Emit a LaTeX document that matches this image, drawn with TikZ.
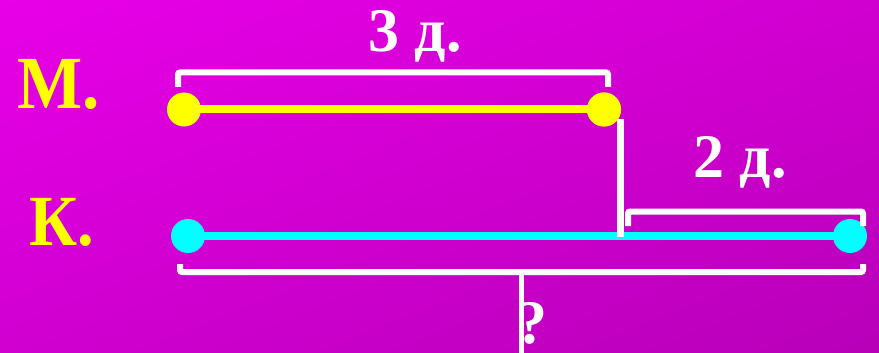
\documentclass[tikz,border=0pt]{standalone}
\usepackage{fontspec}
\usetikzlibrary{shadings}
\setmainfont{Liberation Serif}
\definecolor{bgA}{RGB}{232,0,232}
\definecolor{bgB}{RGB}{208,0,208}
\definecolor{bgC}{RGB}{184,0,184}
\definecolor{segY}{RGB}{255,255,0}
\definecolor{segC}{RGB}{0,255,255}
\tikzset{
  lbl/.style={inner sep=0pt, anchor=base west, font=\bfseries\fontsize{62}{62}\selectfont, text=white},
  name lbl/.style={inner sep=0pt, anchor=base west, font=\bfseries\fontsize{75}{75}\selectfont, text=segY},
  ydot/.style={circle, fill=segY, inner sep=0pt, minimum size=34pt},
  cdot/.style={circle, fill=segC, inner sep=0pt, minimum size=34pt},
  yseg/.style={draw=segY, line width=8pt},
  cseg/.style={draw=segC, line width=8pt},
  brace/.style={draw=white, line width=6pt, rounded corners=2pt},
  tie/.style={draw=white, line width=7pt}
}
\begin{document}
\begin{tikzpicture}[x=1pt,y=-1pt]
\shade[upper left=bgA, upper right=bgB, lower left=bgB, lower right=bgC] (0,0) rectangle (879,353);
\useasboundingbox (0,0) rectangle (879,353);
% labels
\node[name lbl, xscale=0.92] (m) at (17,108) {М.};
\node[name lbl, xscale=0.92, font=\bfseries\fontsize{72}{72}\selectfont] (k) at (29,245) {К.};
\node[lbl] (t3) at (368,52) {3 д.};
\node[lbl] (t2) at (693,177) {2 д.};
% coordinates
\coordinate (tie1) at (620.5,119);
\coordinate (tie2) at (620.5,237);
% dots
\node[ydot] (m1) at (184,109.5) {};
\node[ydot] (m2) at (604,109.5) {};
\node[cdot] (k1) at (188,236) {};
\node[cdot] (k2) at (850,236) {};
% segments
\path[yseg] (m1.center) -- (m2.center);
\path[cseg] (k1.center) -- (k2.center);
\path[tie] (tie1) -- (tie2);
\node[ydot] at (m2) {};
% braces
\coordinate (b1a) at (178,87); \coordinate (b1b) at (608,87);
\path[brace] (b1a) -- (178,72.5) -- (608,72.5) -- (b1b);
\coordinate (b2a) at (628,226); \coordinate (b2b) at (863,226);
\path[brace] (b2a) -- (628,211.5) -- (863,211.5) -- (b2b);
\coordinate (b3a) at (180,264); \coordinate (b3b) at (863,264);
\path[brace] (b3a) -- (180,272) -- (863,272) -- (b3b);
\coordinate (q1) at (521.5,274);
\coordinate (q2) at (521.5,353);
\draw[white, line width=4.5pt] (q1) -- (q2);
\node[lbl] (q) at (516,343) {?};
\end{tikzpicture}
\end{document}
